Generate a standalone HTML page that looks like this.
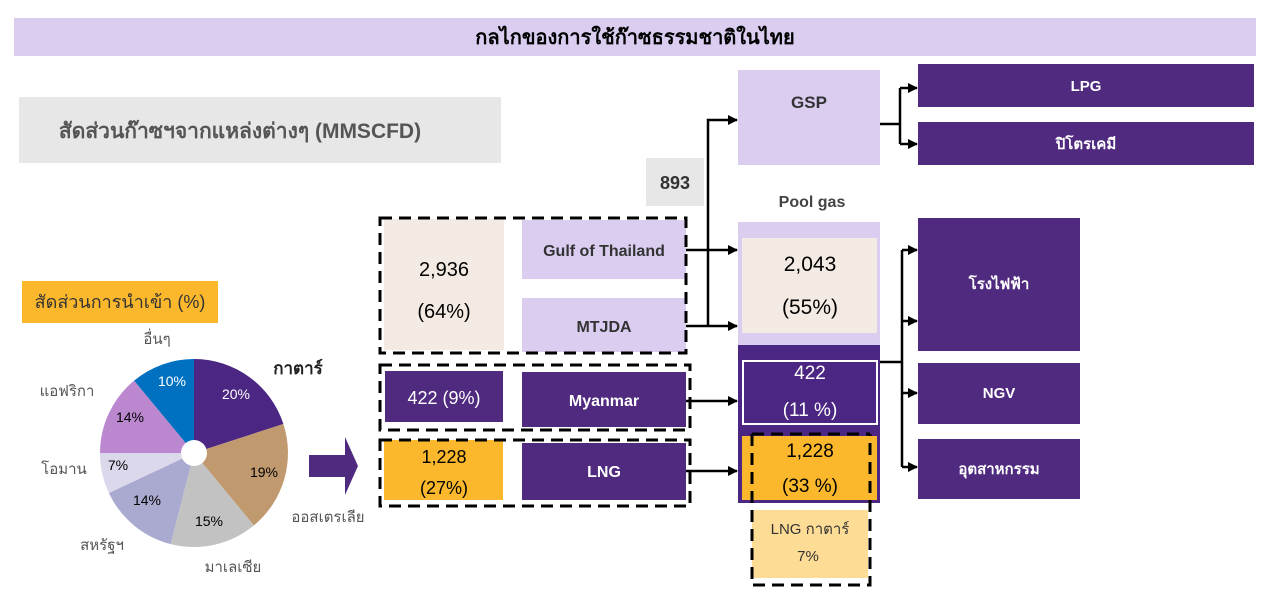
<!DOCTYPE html>
<html><head><meta charset="utf-8"><style>
body{margin:0;background:#fff;}
svg text{font-family:"Liberation Sans","DejaVu Sans",sans-serif;}
</style></head><body>
<svg width="1264" height="606" xmlns="http://www.w3.org/2000/svg">
<defs><marker id="a" markerWidth="10" markerHeight="10" refX="9" refY="5" orient="auto" markerUnits="userSpaceOnUse"><path d="M0,0L10,5L0,10z" fill="#000"/></marker></defs>
<rect x="14" y="18" width="1242" height="38" fill="#dacdf0"/>
<text x="635" y="44" font-size="20" font-weight="bold" text-anchor="middle">กลไกของการใช้ก๊าซธรรมชาติในไทย</text>
<rect x="19" y="97" width="482" height="66" fill="#e7e7e7"/>
<text x="240" y="138" font-size="21" font-weight="bold" fill="#555" text-anchor="middle">สัดส่วนก๊าซฯจากแหล่งต่างๆ (MMSCFD)</text>
<rect x="22" y="281" width="196" height="42" fill="#fbb82c"/>
<text x="120" y="308" font-size="18" fill="#333" text-anchor="middle">สัดส่วนการนำเข้า (%)</text>
<path d="M194,453L194,359A94,94 0 0 1 283.4,424z" fill="#4b2682"/>
<path d="M194,453L283.4,424A94,94 0 0 1 253.9,525.4z" fill="#c09a6e"/>
<path d="M194,453L253.9,525.4A94,94 0 0 1 170.6,544.1z" fill="#c2c2c2"/>
<path d="M194,453L170.6,544.1A94,94 0 0 1 108.9,493z" fill="#aaaad0"/>
<path d="M194,453L108.9,493A94,94 0 0 1 100,453z" fill="#dcd8ec"/>
<path d="M194,453L100,453A94,94 0 0 1 134.1,380.6z" fill="#bb88d0"/>
<path d="M194,453L134.1,380.6A94,94 0 0 1 194,359z" fill="#0070c0"/>
<circle cx="194" cy="453" r="13" fill="#fff"/>
<g font-size="14" text-anchor="middle">
<text x="236" y="399" fill="#fff">20%</text>
<text x="264" y="477">19%</text>
<text x="209" y="526">15%</text>
<text x="147" y="505">14%</text>
<text x="118" y="470">7%</text>
<text x="130" y="422">14%</text>
<text x="172" y="386" fill="#fff">10%</text>
</g>
<g font-size="15" fill="#555">
<text x="157" y="344" text-anchor="middle">อื่นๆ</text>
<text x="298" y="374" text-anchor="middle" font-weight="bold" fill="#222" font-size="17">กาตาร์</text>
<text x="67" y="396" text-anchor="middle">แอฟริกา</text>
<text x="64" y="474" text-anchor="middle">โอมาน</text>
<text x="102" y="550" text-anchor="middle">สหรัฐฯ</text>
<text x="233" y="572" text-anchor="middle">มาเลเซีย</text>
<text x="328" y="522" text-anchor="middle">ออสเตรเลีย</text>
</g>
<path d="M309,455H345V437L358,466L345,495V477H309z" fill="#4f2a7f"/>
<rect x="384" y="219" width="120" height="131" fill="#f3ebe3"/>
<text x="444" y="276" font-size="20" text-anchor="middle">2,936</text>
<text x="444" y="318" font-size="20" text-anchor="middle">(64%)</text>
<rect x="522" y="220" width="164" height="59" fill="#dacdf0"/>
<text x="604" y="256" font-size="16" font-weight="bold" fill="#333" text-anchor="middle">Gulf of Thailand</text>
<rect x="522" y="298" width="164" height="54" fill="#dacdf0"/>
<text x="604" y="332" font-size="16" font-weight="bold" fill="#333" text-anchor="middle">MTJDA</text>
<rect x="380" y="218" width="306" height="135" fill="none" stroke="#000" stroke-width="3" stroke-dasharray="12,7"/>
<rect x="385" y="371" width="118" height="51" fill="#4f2a7f"/>
<text x="444" y="404" font-size="18" fill="#fff" text-anchor="middle">422 (9%)</text>
<rect x="522" y="372" width="164" height="55" fill="#4f2a7f"/>
<text x="604" y="406" font-size="16" font-weight="bold" fill="#fff" text-anchor="middle">Myanmar</text>
<rect x="380" y="365" width="310" height="65" fill="none" stroke="#000" stroke-width="3" stroke-dasharray="12,7"/>
<rect x="384" y="440" width="119" height="60" fill="#fbb82c"/>
<text x="444" y="463" font-size="18" text-anchor="middle">1,228</text>
<text x="444" y="494" font-size="18" text-anchor="middle">(27%)</text>
<rect x="522" y="443" width="164" height="57" fill="#4f2a7f"/>
<text x="604" y="477" font-size="16" font-weight="bold" fill="#fff" text-anchor="middle">LNG</text>
<rect x="380" y="440" width="310" height="66" fill="none" stroke="#000" stroke-width="3" stroke-dasharray="12,7"/>
<rect x="646" y="158" width="58" height="48" fill="#e7e7e7"/>
<text x="675" y="189" font-size="18" font-weight="bold" fill="#333" text-anchor="middle">893</text>
<rect x="738" y="70" width="142" height="95" fill="#dacdf0"/>
<text x="809" y="108" font-size="17" font-weight="bold" fill="#333" text-anchor="middle">GSP</text>
<text x="812" y="207" font-size="16" font-weight="bold" fill="#444" text-anchor="middle">Pool gas</text>
<rect x="738" y="222" width="142" height="123" fill="#dacdf0"/>
<rect x="742" y="238" width="135" height="95" fill="#f3ebe3"/>
<text x="810" y="271" font-size="21" text-anchor="middle">2,043</text>
<text x="810" y="314" font-size="21" text-anchor="middle">(55%)</text>
<rect x="738" y="345" width="142" height="158" fill="#4b2682"/>
<rect x="743" y="361" width="134" height="63" fill="#4b2682" stroke="#fff" stroke-width="2"/>
<text x="810" y="379" font-size="19" fill="#fff" text-anchor="middle">422</text>
<text x="810" y="416" font-size="19" fill="#fff" text-anchor="middle">(11 %)</text>
<rect x="742" y="436" width="135" height="64" fill="#fbb82c"/>
<text x="810" y="457" font-size="19" text-anchor="middle">1,228</text>
<text x="810" y="492" font-size="19" text-anchor="middle">(33 %)</text>
<rect x="752" y="510" width="116" height="68" fill="#fddc95"/>
<text x="810" y="534" font-size="15" fill="#333" text-anchor="middle">LNG กาตาร์</text>
<text x="808" y="561" font-size="15" fill="#333" text-anchor="middle">7%</text>
<path d="M752,434V585H870V434" fill="none" stroke="#000" stroke-width="3" stroke-dasharray="12,7"/>
<path d="M752,434H870" fill="none" stroke="#000" stroke-width="3" stroke-dasharray="12,7"/>
<g fill="#4f2a7f">
<rect x="918" y="64" width="336" height="43"/>
<rect x="918" y="122" width="336" height="43"/>
<rect x="918" y="218" width="162" height="133"/>
<rect x="918" y="363" width="162" height="61"/>
<rect x="918" y="439" width="162" height="60"/>
</g>
<g font-size="15" font-weight="bold" fill="#fff" text-anchor="middle">
<text x="1086" y="91">LPG</text>
<text x="1086" y="149">ปิโตรเคมี</text>
<text x="999" y="289">โรงไฟฟ้า</text>
<text x="999" y="398">NGV</text>
<text x="999" y="474">อุตสาหกรรม</text>
</g>
<g stroke="#000" stroke-width="2.5" fill="none">
<path d="M708,326V120H737" marker-end="url(#a)"/>
<path d="M686,250H737" marker-end="url(#a)"/>
<path d="M686,326H737" marker-end="url(#a)"/>
<path d="M686,401H737" marker-end="url(#a)"/>
<path d="M686,471H737" marker-end="url(#a)"/>
<path d="M880,124H900"/>
<path d="M900,88V144"/>
<path d="M900,88H917" marker-end="url(#a)"/>
<path d="M900,144H917" marker-end="url(#a)"/>
<path d="M880,362H902"/>
<path d="M902,250V467"/>
<path d="M902,250H917" marker-end="url(#a)"/>
<path d="M902,321H917" marker-end="url(#a)"/>
<path d="M902,393H917" marker-end="url(#a)"/>
<path d="M902,467H917" marker-end="url(#a)"/>
</g>
</svg>
</body></html>
